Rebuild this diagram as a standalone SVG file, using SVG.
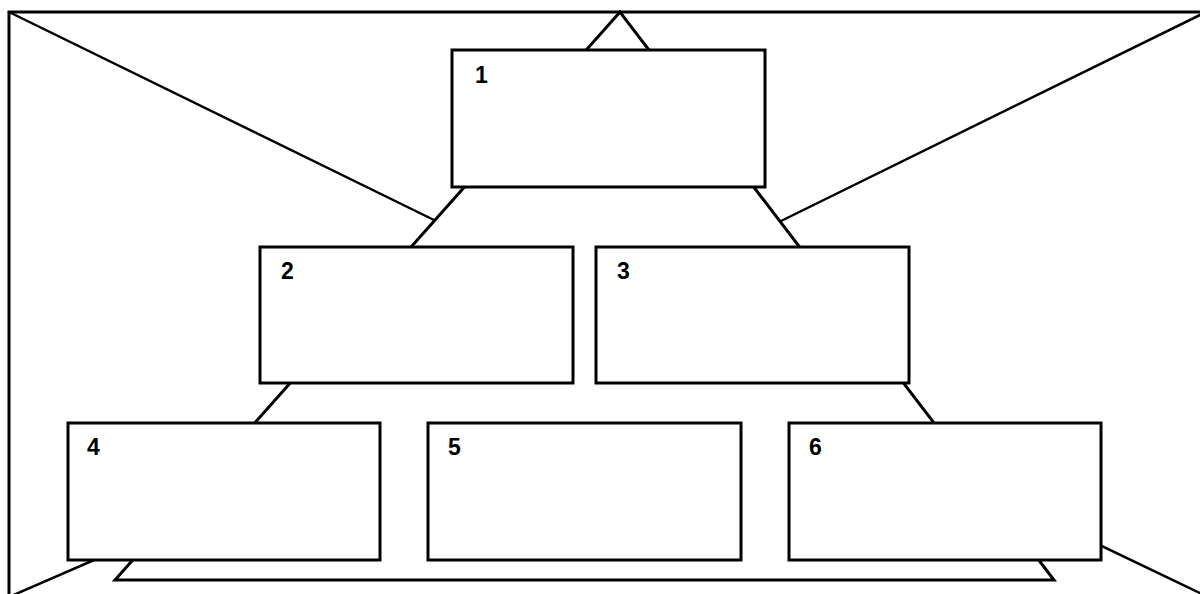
<svg xmlns="http://www.w3.org/2000/svg" width="1200" height="594" viewBox="0 0 1200 594">
<style>
.ln{stroke:#000;stroke-width:2.5;fill:none;stroke-linecap:round}
.fr{stroke:#000;stroke-width:3;fill:none}
.box{fill:#fff;stroke:#000;stroke-width:3}
.lbl{font-family:"Liberation Sans",Arial,sans-serif;font-size:23px;font-weight:bold;fill:#000}
</style>
<rect width="1200" height="594" fill="#fff"/>
<g id="connectors">
<path class="fr" d="M1202 12 H9 V596"/>
<line class="ln" x1="9" y1="12" x2="434" y2="220"/>
<line class="ln" x1="1202" y1="14" x2="781" y2="221"/>
<line class="ln" x1="9" y1="597" x2="140" y2="540"/>
<line class="ln" x1="1202" y1="594" x2="1060" y2="526"/>
<polygon class="fr" points="620,12 115,580 1054,580" stroke-linejoin="miter"/>
</g>
<g id="node1"><rect class="box" x="452" y="50" width="313" height="137"/><text class="lbl" x="475" y="83">1</text></g>
<g id="node2"><rect class="box" x="260" y="247" width="313" height="136"/><text class="lbl" x="281" y="279">2</text></g>
<g id="node3"><rect class="box" x="596" y="247" width="313" height="136"/><text class="lbl" x="617" y="279">3</text></g>
<g id="node4"><rect class="box" x="68" y="423" width="312" height="137"/><text class="lbl" x="87" y="455">4</text></g>
<g id="node5"><rect class="box" x="428" y="423" width="313" height="137"/><text class="lbl" x="448" y="455">5</text></g>
<g id="node6"><rect class="box" x="789" y="423" width="312" height="137"/><text class="lbl" x="809" y="455">6</text></g>
</svg>
